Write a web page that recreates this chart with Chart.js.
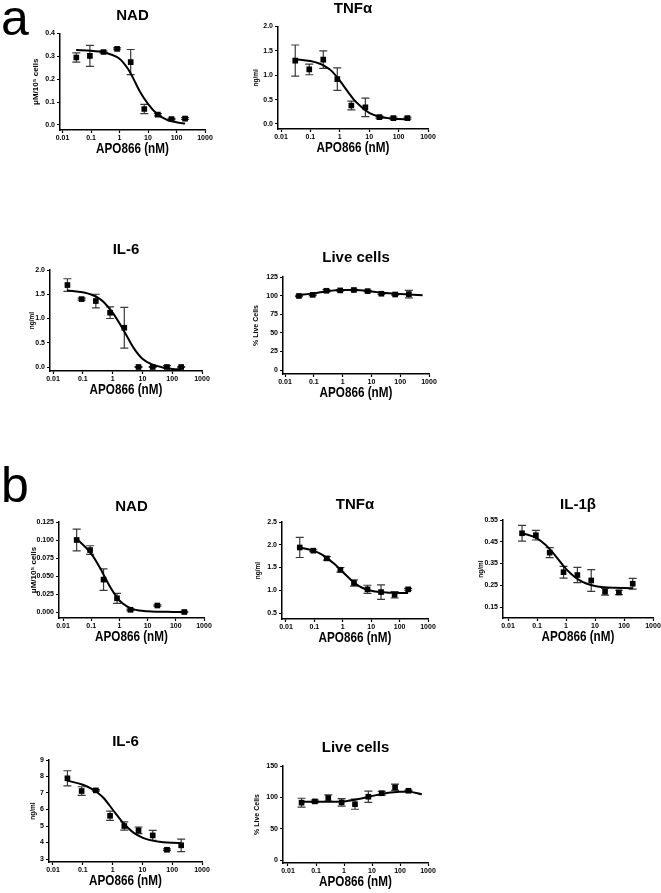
<!DOCTYPE html>
<html>
<head>
<meta charset="utf-8">
<script src="https://cdn.jsdelivr.net/npm/chart.js@4.4.1/dist/chart.umd.min.js"></script>
<style>
body { margin: 0; background: #fff; width: 661px; height: 893px; position: relative; overflow: hidden; font-family: 'Liberation Sans', Arial, sans-serif; }
.letter { position: absolute; font-size: 50px; line-height: 50px; color: #000; }
canvas { position: absolute; }
</style>
</head>
<body>
<div class="letter" style="left:1px;top:-7px">a</div>
<div class="letter" style="left:1px;top:460px">b</div>
<script>
// doses (nM), 3-fold dilution series
const doses = [0.0305, 0.0914, 0.274, 0.823, 2.47, 7.41, 22.2, 66.7, 200];
const fitDoses = [0.03, 0.1, 0.2, 0.3, 0.5, 1, 2, 3, 5, 10, 20, 50, 100, 200];
const liveFitDoses = [0.03, 0.1, 0.3, 1, 3, 10, 30, 100, 200, 600];
const xTicks = [0.01, 0.1, 1, 10, 100, 1000];

// panel a
const aNadMean = [0.295, 0.302, 0.319, 0.333, 0.275, 0.070, 0.045, 0.026, 0.028];
const aNadErr = [0.02, 0.046, 0.004, 0.004, 0.055, 0.02, 0.005, 0.003, 0.004];
const aNadFit = [0.328, 0.325, 0.321, 0.317, 0.308, 0.29, 0.245, 0.205, 0.15, 0.092, 0.05, 0.02, 0.012, 0.006];

const aTnfMean = [1.30, 1.12, 1.32, 0.92, 0.38, 0.34, 0.14, 0.12, 0.12];
const aTnfErr = [0.32, 0.11, 0.18, 0.23, 0.09, 0.19, 0.02, 0.02, 0.02];
const aTnfFit = [1.33, 1.29, 1.24, 1.19, 1.10, 0.89, 0.64, 0.50, 0.37, 0.23, 0.16, 0.115, 0.10, 0.095];

const aIl6Mean = [1.69, 1.40, 1.36, 1.12, 0.81, 0.0, 0.0, 0.0, 0.0];
const aIl6Err = [0.13, 0.02, 0.14, 0.12, 0.42, 0.01, 0.01, 0.03, 0.01];
const aIl6Fit = [1.58, 1.54, 1.49, 1.44, 1.34, 1.12, 0.83, 0.64, 0.40, 0.17, 0.06, -0.01, -0.04, -0.05];

const aLiveMean = [99.5, 101, 106.5, 107, 107.5, 106, 102.5, 101.5, 102];
const aLiveErr = [1, 1, 1.5, 1, 1, 1, 1, 1, 5];
const aLiveFit = [101, 103, 106, 107.5, 107.5, 105.5, 103.5, 102, 101.5, 100.5];

// panel b
const bNadMean = [0.100, 0.086, 0.045, 0.019, 0.003, null, 0.009, null, 0.000];
const bNadErr = [0.015, 0.006, 0.015, 0.007, 0.001, 0, 0.001, 0, 0.001];
const bNadFit = [0.102, 0.081, 0.062, 0.049, 0.033, 0.016, 0.007, 0.004, 0.002, 0.001, 0.0005, 0.0002, 0.0001, 0];

const bTnfMean = [1.94, 1.87, 1.70, 1.45, 1.16, 1.02, 0.96, 0.90, 1.02];
const bTnfErr = [0.22, 0.02, 0.04, 0.05, 0.07, 0.09, 0.16, 0.07, 0.02];
const bTnfFit = [1.94, 1.86, 1.77, 1.69, 1.58, 1.40, 1.22, 1.13, 1.05, 0.99, 0.96, 0.945, 0.94, 0.94];

const bIl1bMean = [0.489, 0.480, 0.400, 0.310, 0.297, 0.272, 0.220, 0.217, 0.257];
const bIl1bErr = [0.036, 0.022, 0.023, 0.027, 0.035, 0.05, 0.015, 0.01, 0.025];
const bIl1bFit = [0.49, 0.466, 0.435, 0.41, 0.375, 0.325, 0.288, 0.272, 0.258, 0.247, 0.241, 0.238, 0.237, 0.236];

const bIl6Mean = [7.89, 7.12, 7.16, 5.62, 5.0, 4.74, 4.43, 3.56, 3.83];
const bIl6Err = [0.46, 0.26, 0.05, 0.28, 0.25, 0.2, 0.3, 0.05, 0.38];
const bIl6Fit = [7.75, 7.5, 7.25, 7.05, 6.7, 6.0, 5.3, 4.95, 4.6, 4.3, 4.13, 4.02, 3.98, 3.96];

const bLiveMean = [91.5, 93.5, 99, 92, 89, 101, 106.5, 116, 110.5];
const bLiveErr = [7, 2, 5, 6, 8, 9, 3, 5, 1];
const bLiveFit = [93, 93, 93, 93.5, 97, 102, 106.5, 109, 109, 105];

Chart.defaults.font.family = "'Liberation Sans', Arial, sans-serif";
Chart.defaults.color = '#000';

// draws mean +/- error whiskers under the squares
const errorBars = {
    id: 'errorBars',
    beforeDatasetsDraw(chart) {
        const ctx = chart.ctx, xs = chart.scales.x, ys = chart.scales.y;
        chart.data.datasets.forEach(ds => {
            if (!ds.errors) return;
            ctx.save();
            ctx.strokeStyle = '#3a3a3a';
            ctx.lineWidth = 1.2;
            ds.data.forEach((pt, i) => {
                const e = ds.errors[i];
                if (pt.y == null || !e) return;
                const x = xs.getPixelForValue(pt.x);
                const y1 = ys.getPixelForValue(pt.y + e);
                const y2 = ys.getPixelForValue(pt.y - e);
                ctx.beginPath();
                ctx.moveTo(x, y1); ctx.lineTo(x, y2);
                ctx.moveTo(x - 4, y1); ctx.lineTo(x + 4, y1);
                ctx.moveTo(x - 4, y2); ctx.lineTo(x + 4, y2);
                ctx.stroke();
            });
            ctx.restore();
        });
    }
};

// x-axis title in a condensed bold face (no narrow font installed)
const condensedXTitle = {
    id: 'condensedXTitle',
    afterDraw(chart, args, opts) {
        const ctx = chart.ctx, area = chart.chartArea;
        ctx.save();
        ctx.font = "bold 15px 'Liberation Sans', Arial, sans-serif";
        ctx.textAlign = 'center';
        ctx.textBaseline = 'middle';
        ctx.fillStyle = '#000';
        ctx.translate((area.left + area.right) / 2, area.bottom + 19);
        ctx.scale(0.78, 1);
        ctx.fillText(opts.text, 0, 0);
        ctx.restore();
    }
};

function makePanel(p) {
    const decade = (p.x1000 - p.x001) / 5;
    const xMin = Math.pow(10, -2 - (p.x001 - p.left) / decade);
    const yPer = (p.yTop - p.yBot) / (p.yBotPx - p.yTopPx);
    const yMin = p.yBot - (p.axisPx - p.yBotPx) * yPer;
    const yAxisW = 48, xAxisH = 32, padR = 14;
    const cLeft = p.left - yAxisW;
    const cTop = p.titleY - 9;
    const canvas = document.createElement('canvas');
    canvas.width = Math.round(p.x1000 + padR - cLeft);
    canvas.height = Math.round(p.axisPx + xAxisH - cTop);
    canvas.style.left = cLeft + 'px';
    canvas.style.top = cTop + 'px';
    document.body.appendChild(canvas);

    new Chart(canvas, {
        type: 'scatter',
        data: {
            datasets: [{
                data: doses.map((d, i) => ({ x: d, y: p.mean[i] })),
                errors: p.err,
                pointStyle: 'rect',
                pointRadius: 4,
                backgroundColor: '#000',
                borderColor: '#000',
                borderWidth: 0
            }, {
                data: p.fitX.map((d, i) => ({ x: d, y: p.fit[i] })),
                showLine: true,
                pointRadius: 0,
                borderColor: '#000',
                borderWidth: 2,
                cubicInterpolationMode: 'monotone',
                fill: false
            }]
        },
        options: {
            responsive: false,
            devicePixelRatio: 1,
            animation: false,
            events: [],
            layout: { padding: { left: 0, right: padR, top: 0, bottom: 0 } },
            plugins: {
                legend: { display: false },
                tooltip: { enabled: false },
                condensedXTitle: { text: 'APO866 (nM)' },
                title: {
                    display: true,
                    text: p.title,
                    fullSize: false,
                    color: '#000',
                    font: { size: 15, weight: 'bold' },
                    padding: { top: 0, bottom: p.yTopPx - cTop - 18 }
                }
            },
            scales: {
                x: {
                    type: 'logarithmic',
                    min: xMin,
                    max: 1000,
                    afterBuildTicks: s => { s.ticks = xTicks.map(v => ({ value: v })); },
                    afterFit: s => { s.height = xAxisH; },
                    ticks: {
                        callback: v => String(v),
                        autoSkip: false,
                        maxRotation: 0,
                        padding: 1,
                        color: '#000',
                        font: { size: 7, weight: 'bold' }
                    },
                    grid: { drawOnChartArea: false, drawTicks: true, tickLength: 3, tickColor: '#000', tickWidth: 1.2 },
                    border: { color: '#000', width: 1.5 },
                    title: { display: false }
                },
                y: {
                    type: 'linear',
                    min: yMin,
                    max: p.yTop,
                    afterBuildTicks: s => { s.ticks = p.yTicks.map(v => ({ value: v })); },
                    afterFit: s => { s.width = yAxisW; },
                    ticks: {
                        callback: v => Number(v).toFixed(p.dec),
                        autoSkip: false,
                        padding: 2,
                        color: '#000',
                        font: { size: 7, weight: 'bold' }
                    },
                    grid: { drawOnChartArea: false, drawTicks: true, tickLength: 3, tickColor: '#000', tickWidth: 1.2 },
                    border: { color: '#000', width: 1.5 },
                    title: {
                        display: true,
                        text: p.yTitle,
                        color: '#000',
                        font: { size: p.yTitleSize, weight: 'bold' },
                        padding: { top: 43.2 - p.yTitleGap - (p.yTitleSize * 1.2 - 9.6) / 2, bottom: 0 }
                    }
                }
            }
        },
        plugins: [errorBars, condensedXTitle]
    });
}

makePanel({ title: 'NAD', yTitle: 'μM/10⁵ cells', yTitleSize: 8, yTitleGap: 24.5,
    mean: aNadMean, err: aNadErr, fitX: fitDoses, fit: aNadFit,
    left: 59.5, x001: 62, x1000: 204, yTopPx: 33, yBotPx: 124, axisPx: 129, titleY: 15.5,
    yTop: 0.4, yBot: 0, yTicks: [0, 0.1, 0.2, 0.3, 0.4], dec: 1 });

makePanel({ title: 'TNFα', yTitle: 'ng/ml', yTitleSize: 6.5, yTitleGap: 22,
    mean: aTnfMean, err: aTnfErr, fitX: fitDoses, fit: aTnfFit,
    left: 278, x001: 281, x1000: 428, yTopPx: 26, yBotPx: 123, axisPx: 128, titleY: 8.5,
    yTop: 2.0, yBot: 0, yTicks: [0, 0.5, 1, 1.5, 2], dec: 1 });

makePanel({ title: 'IL-6', yTitle: 'ng/ml', yTitleSize: 6.5, yTitleGap: 18,
    mean: aIl6Mean, err: aIl6Err, fitX: fitDoses, fit: aIl6Fit,
    left: 50, x001: 53, x1000: 202, yTopPx: 270, yBotPx: 367, axisPx: 371, titleY: 250,
    yTop: 2.0, yBot: 0, yTicks: [0, 0.5, 1, 1.5, 2], dec: 1 });

makePanel({ title: 'Live cells', yTitle: '% Live Cells', yTitleSize: 7, yTitleGap: 27,
    mean: aLiveMean, err: aLiveErr, fitX: liveFitDoses, fit: aLiveFit,
    left: 283, x001: 285, x1000: 429, yTopPx: 277, yBotPx: 370, axisPx: 374, titleY: 258,
    yTop: 125, yBot: 0, yTicks: [0, 25, 50, 75, 100, 125], dec: 0 });

makePanel({ title: 'NAD', yTitle: 'μM/10⁵ cells', yTitleSize: 8, yTitleGap: 25,
    mean: bNadMean, err: bNadErr, fitX: fitDoses, fit: bNadFit,
    left: 59, x001: 63, x1000: 204, yTopPx: 522, yBotPx: 612, axisPx: 618, titleY: 507,
    yTop: 0.125, yBot: 0, yTicks: [0, 0.025, 0.05, 0.075, 0.1, 0.125], dec: 3 });

makePanel({ title: 'TNFα', yTitle: 'ng/ml', yTitleSize: 6.5, yTitleGap: 24,
    mean: bTnfMean, err: bTnfErr, fitX: fitDoses, fit: bTnfFit,
    left: 282, x001: 286, x1000: 428, yTopPx: 522, yBotPx: 613, axisPx: 619, titleY: 505,
    yTop: 2.5, yBot: 0.5, yTicks: [0.5, 1, 1.5, 2, 2.5], dec: 1 });

makePanel({ title: 'IL-1β', yTitle: 'ng/ml', yTitleSize: 6.5, yTitleGap: 22,
    mean: bIl1bMean, err: bIl1bErr, fitX: fitDoses, fit: bIl1bFit,
    left: 503, x001: 508, x1000: 653, yTopPx: 520, yBotPx: 607, axisPx: 618, titleY: 505,
    yTop: 0.55, yBot: 0.15, yTicks: [0.15, 0.25, 0.35, 0.45, 0.55], dec: 2 });

makePanel({ title: 'IL-6', yTitle: 'ng/ml', yTitleSize: 6.5, yTitleGap: 16,
    mean: bIl6Mean, err: bIl6Err, fitX: fitDoses, fit: bIl6Fit,
    left: 49, x001: 53, x1000: 202, yTopPx: 760, yBotPx: 859, axisPx: 862, titleY: 742,
    yTop: 9, yBot: 3, yTicks: [3, 4, 5, 6, 7, 8, 9], dec: 0 });

makePanel({ title: 'Live cells', yTitle: '% Live Cells', yTitleSize: 7, yTitleGap: 26,
    mean: bLiveMean, err: bLiveErr, fitX: liveFitDoses, fit: bLiveFit,
    left: 283, x001: 288, x1000: 428, yTopPx: 766, yBotPx: 860, axisPx: 863, titleY: 748,
    yTop: 150, yBot: 0, yTicks: [0, 50, 100, 150], dec: 0 });
</script>
</body>
</html>
